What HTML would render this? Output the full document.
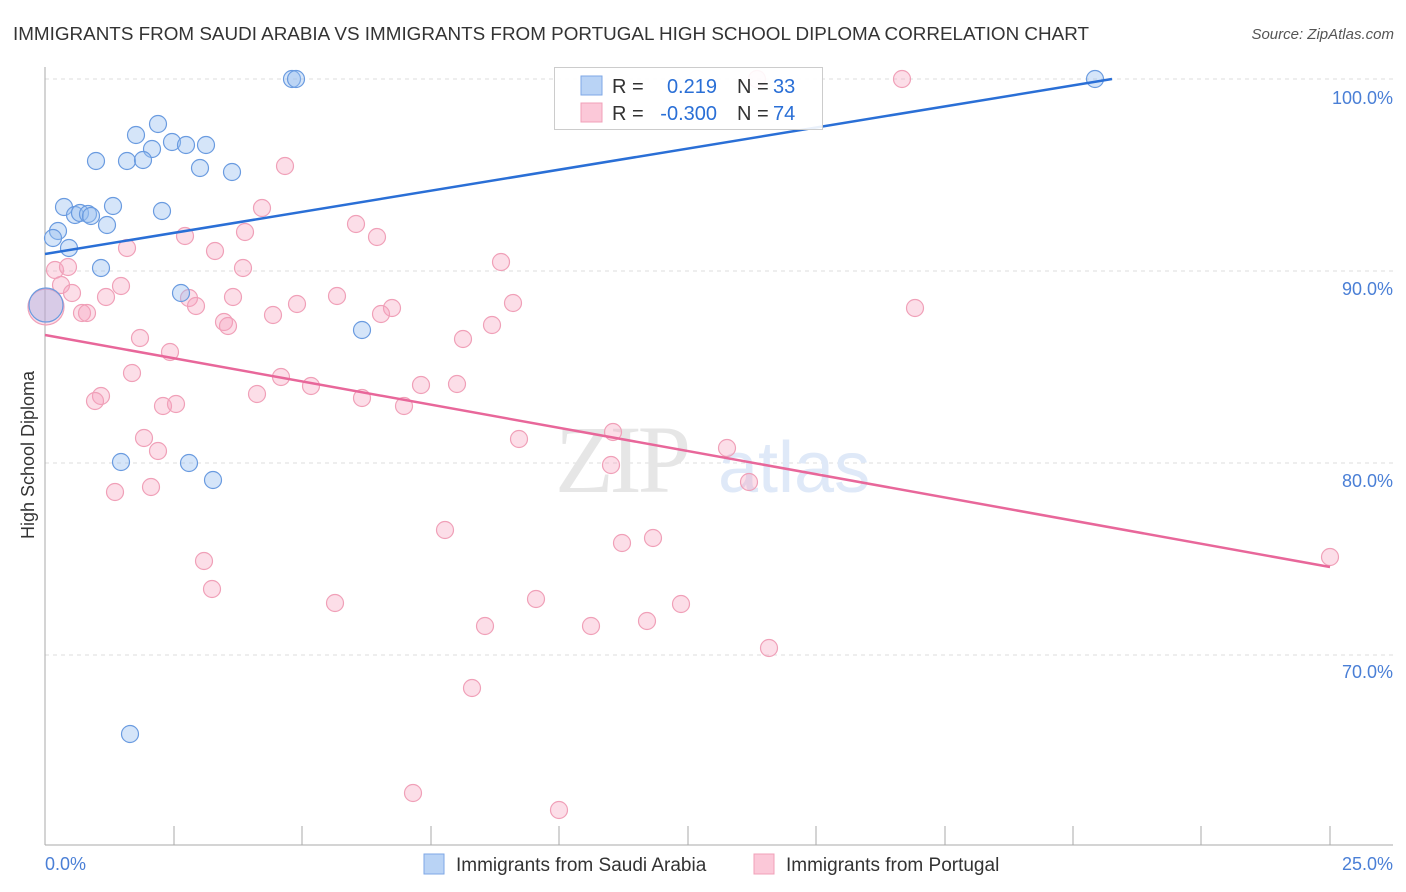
<!DOCTYPE html>
<html><head><meta charset="utf-8"><style>
html,body{margin:0;padding:0;background:#fff;}
svg{display:block;font-family:"Liberation Sans",sans-serif;}
</style></head><body>
<svg width="1406" height="892" viewBox="0 0 1406 892" xmlns="http://www.w3.org/2000/svg">
<text x="13" y="40" font-size="18" fill="#333" textLength="1076" lengthAdjust="spacingAndGlyphs">IMMIGRANTS FROM SAUDI ARABIA VS IMMIGRANTS FROM PORTUGAL HIGH SCHOOL DIPLOMA CORRELATION CHART</text>
<text x="1394" y="39" font-size="15" fill="#555" font-style="italic" text-anchor="end">Source: ZipAtlas.com</text>
<g stroke="#ddd" stroke-dasharray="4,4" stroke-width="1">
<line x1="45" y1="79" x2="1393" y2="79"/><line x1="45" y1="271" x2="1393" y2="271"/><line x1="45" y1="463" x2="1393" y2="463"/><line x1="45" y1="655" x2="1393" y2="655"/>
</g>
<line x1="45" y1="67" x2="45" y2="845" stroke="#aaa"/>
<line x1="45" y1="845" x2="1393" y2="845" stroke="#aaa"/>
<g stroke="#aaa">
<line x1="174" y1="826" x2="174" y2="845"/><line x1="302" y1="826" x2="302" y2="845"/><line x1="431" y1="826" x2="431" y2="845"/><line x1="559" y1="826" x2="559" y2="845"/><line x1="688" y1="826" x2="688" y2="845"/><line x1="816" y1="826" x2="816" y2="845"/><line x1="945" y1="826" x2="945" y2="845"/><line x1="1073" y1="826" x2="1073" y2="845"/><line x1="1201" y1="826" x2="1201" y2="845"/><line x1="1330" y1="826" x2="1330" y2="845"/>
</g>
<g font-size="18" fill="#4a7fd6" text-anchor="end">
<text x="1393" y="104">100.0%</text><text x="1393" y="295">90.0%</text><text x="1393" y="487">80.0%</text><text x="1393" y="678">70.0%</text>
</g>
<text x="45" y="870" font-size="18" fill="#4a7fd6">0.0%</text>
<text x="1393" y="870" font-size="18" fill="#4a7fd6" text-anchor="end">25.0%</text>
<text transform="translate(34,455) rotate(-90)" font-size="18" fill="#333" text-anchor="middle">High School Diploma</text>
<text x="555" y="492" font-size="96" fill="#e6e6e6" font-family="Liberation Serif,serif" letter-spacing="-4">ZIP</text>
<text x="718" y="492" font-size="72" fill="#dfe9f8">atlas</text>
<g fill="rgba(247,160,190,0.35)" stroke="#f0a0b8" stroke-width="1.2">
<circle cx="757" cy="79" r="8.5"/><circle cx="902" cy="79" r="8.5"/><circle cx="285" cy="166" r="8.5"/><circle cx="262" cy="208" r="8.5"/><circle cx="356" cy="224" r="8.5"/><circle cx="245" cy="232" r="8.5"/><circle cx="185" cy="236" r="8.5"/><circle cx="377" cy="237" r="8.5"/><circle cx="127" cy="248" r="8.5"/><circle cx="215" cy="251" r="8.5"/><circle cx="55" cy="270" r="8.5"/><circle cx="68" cy="267" r="8.5"/><circle cx="243" cy="268" r="8.5"/><circle cx="501" cy="262" r="8.5"/><circle cx="61" cy="285" r="8.5"/><circle cx="121" cy="286" r="8.5"/><circle cx="72" cy="293" r="8.5"/><circle cx="106" cy="297" r="8.5"/><circle cx="189" cy="298" r="8.5"/><circle cx="233" cy="297" r="8.5"/><circle cx="337" cy="296" r="8.5"/><circle cx="297" cy="304" r="8.5"/><circle cx="196" cy="306" r="8.5"/><circle cx="513" cy="303" r="8.5"/><circle cx="82" cy="313" r="8.5"/><circle cx="87" cy="313" r="8.5"/><circle cx="392" cy="308" r="8.5"/><circle cx="381" cy="314" r="8.5"/><circle cx="273" cy="315" r="8.5"/><circle cx="224" cy="322" r="8.5"/><circle cx="228" cy="326" r="8.5"/><circle cx="915" cy="308" r="8.5"/><circle cx="492" cy="325" r="8.5"/><circle cx="463" cy="339" r="8.5"/><circle cx="140" cy="338" r="8.5"/><circle cx="170" cy="352" r="8.5"/><circle cx="132" cy="373" r="8.5"/><circle cx="281" cy="377" r="8.5"/><circle cx="311" cy="386" r="8.5"/><circle cx="421" cy="385" r="8.5"/><circle cx="457" cy="384" r="8.5"/><circle cx="257" cy="394" r="8.5"/><circle cx="362" cy="398" r="8.5"/><circle cx="101" cy="396" r="8.5"/><circle cx="95" cy="401" r="8.5"/><circle cx="163" cy="406" r="8.5"/><circle cx="176" cy="404" r="8.5"/><circle cx="404" cy="406" r="8.5"/><circle cx="144" cy="438" r="8.5"/><circle cx="519" cy="439" r="8.5"/><circle cx="158" cy="451" r="8.5"/><circle cx="613" cy="432" r="8.5"/><circle cx="727" cy="448" r="8.5"/><circle cx="611" cy="465" r="8.5"/><circle cx="749" cy="482" r="8.5"/><circle cx="115" cy="492" r="8.5"/><circle cx="151" cy="487" r="8.5"/><circle cx="445" cy="530" r="8.5"/><circle cx="622" cy="543" r="8.5"/><circle cx="653" cy="538" r="8.5"/><circle cx="204" cy="561" r="8.5"/><circle cx="212" cy="589" r="8.5"/><circle cx="335" cy="603" r="8.5"/><circle cx="536" cy="599" r="8.5"/><circle cx="681" cy="604" r="8.5"/><circle cx="485" cy="626" r="8.5"/><circle cx="591" cy="626" r="8.5"/><circle cx="647" cy="621" r="8.5"/><circle cx="769" cy="648" r="8.5"/><circle cx="472" cy="688" r="8.5"/><circle cx="413" cy="793" r="8.5"/><circle cx="559" cy="810" r="8.5"/><circle cx="1330" cy="557" r="8.5"/>
<circle cx="46" cy="307" r="18"/>
</g>
<g fill="rgba(150,190,240,0.4)" stroke="#6a9be0" stroke-width="1.2">
<circle cx="292" cy="79" r="8.5"/><circle cx="296" cy="79" r="8.5"/><circle cx="1095" cy="79" r="8.5"/><circle cx="158" cy="124" r="8.5"/><circle cx="136" cy="135" r="8.5"/><circle cx="172" cy="142" r="8.5"/><circle cx="186" cy="145" r="8.5"/><circle cx="206" cy="145" r="8.5"/><circle cx="152" cy="149" r="8.5"/><circle cx="96" cy="161" r="8.5"/><circle cx="127" cy="161" r="8.5"/><circle cx="143" cy="160" r="8.5"/><circle cx="200" cy="168" r="8.5"/><circle cx="232" cy="172" r="8.5"/><circle cx="64" cy="207" r="8.5"/><circle cx="113" cy="206" r="8.5"/><circle cx="75" cy="215" r="8.5"/><circle cx="80" cy="213" r="8.5"/><circle cx="88" cy="214" r="8.5"/><circle cx="91" cy="216" r="8.5"/><circle cx="162" cy="211" r="8.5"/><circle cx="107" cy="225" r="8.5"/><circle cx="58" cy="231" r="8.5"/><circle cx="53" cy="238" r="8.5"/><circle cx="69" cy="248" r="8.5"/><circle cx="101" cy="268" r="8.5"/><circle cx="181" cy="293" r="8.5"/><circle cx="362" cy="330" r="8.5"/><circle cx="121" cy="462" r="8.5"/><circle cx="189" cy="463" r="8.5"/><circle cx="213" cy="480" r="8.5"/><circle cx="130" cy="734" r="8.5"/>
<circle cx="46" cy="305" r="17" fill="rgba(150,170,230,0.35)"/>
</g>
<line x1="45" y1="254" x2="1112" y2="79" stroke="#2a6fd6" stroke-width="2.5"/>
<line x1="45" y1="335" x2="1330" y2="567" stroke="#e8679a" stroke-width="2.5"/>
<rect x="554.5" y="67.5" width="268" height="62" fill="rgba(255,255,255,0.9)" stroke="#ccc"/>
<rect x="581" y="76" width="21" height="19" fill="#b9d3f5" stroke="#7ea7e6"/>
<rect x="581" y="103" width="21" height="19" fill="#fbc8d8" stroke="#f0a0b8"/>
<g font-size="20">
<text x="612" y="93" fill="#333">R =</text><text x="717" y="93" fill="#2a6fd6" text-anchor="end">0.219</text>
<text x="737" y="93" fill="#333">N =</text><text x="773" y="93" fill="#2a6fd6">33</text>
<text x="612" y="120" fill="#333">R =</text><text x="717" y="120" fill="#2a6fd6" text-anchor="end">-0.300</text>
<text x="737" y="120" fill="#333">N =</text><text x="773" y="120" fill="#2a6fd6">74</text>
</g>
<rect x="424" y="854" width="20" height="20" fill="#b9d3f5" stroke="#7ea7e6"/>
<text x="456" y="871" font-size="19" fill="#333">Immigrants from Saudi Arabia</text>
<rect x="754" y="854" width="20" height="20" fill="#fbc8d8" stroke="#f0a0b8"/>
<text x="786" y="871" font-size="19" fill="#333">Immigrants from Portugal</text>
</svg>
</body></html>
